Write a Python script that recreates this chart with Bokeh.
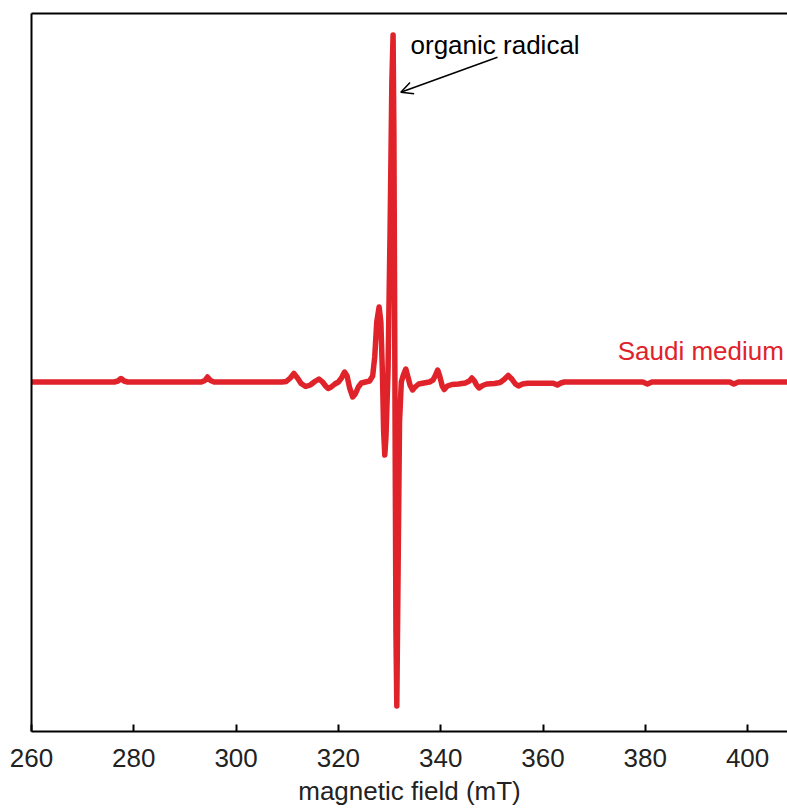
from bokeh.plotting import figure
from bokeh.models import Range1d, LinearAxis, FixedTicker, Label, Arrow, OpenHead
from bokeh.embed import file_html
from bokeh.resources import INLINE

# EPR spectrum: field (mT) and derivative intensity (a.u.)
field = [260.0, 276.2, 276.9, 277.5, 278.1, 278.8, 293.2, 293.9, 294.4, 295.0, 295.7,
         309.0, 309.8, 310.6, 311.3, 312.0, 312.7, 313.6, 314.5, 315.4, 316.2, 316.9,
         317.5, 318.0, 318.6, 319.3, 320.0, 320.6, 321.2, 321.7, 322.2, 322.8, 323.3,
         323.9, 324.5, 325.3, 326.1, 326.7, 327.1, 327.5, 327.96, 328.3, 328.6, 328.85,
         329.07, 329.3, 329.7, 330.1, 330.45, 330.69, 330.85, 331.05, 331.25, 331.42,
         331.65, 331.95, 332.3, 332.7, 333.18, 333.6, 334.0, 334.5, 335.0, 335.7, 336.7,
         337.8, 338.5, 339.0, 339.4, 339.8, 340.3, 340.7, 341.3, 342.2, 343.5, 344.8,
         345.6, 346.1, 346.6, 347.0, 347.5, 348.2, 349.0, 350.5, 351.6, 352.4, 353.2,
         353.9, 354.6, 355.2, 356.0, 357.0, 362.0, 362.8, 363.5, 364.2, 379.5, 380.4,
         381.3, 396.5, 397.3, 398.2, 410.0]
intensity = [0, 0, 1, 3.5, 1, 0, 0, 1.5, 5, 1.5, 0,
             0, 0.5, 4, 8.5, 4, -1.5, -4.5, -3, 0.5, 3, 0,
             -4, -6.5, -5, -2, 0, 4, 10, 6, -6, -15, -12,
             -5, -1, 0, 1, 6, 25, 60, 75, 60, 10, -50,
             -73, -55, 10, 150, 300, 347, 250, 0, -250, -324,
             -200, -40, 0, 7, 13, 5, -3, -8, -5, -2, -1,
             0, 2, 7, 12, 6, -4, -7.5, -4, -2.5, -2, -1,
             1, 4, 1, -3, -6, -3.5, -2, -1.5, -0.5, 2.5, 6.5,
             3, -2, -4, -2, -1.2, -1.2, -3, -1, 0, 0, -2,
             0, 0, -2, 0, 0]

x_ticks = [260, 280, 300, 320, 340, 360, 380, 400]
x_title = "magnetic field (mT)"
series_name = "Saudi medium"
annotation = "organic radical"

RED = "#E0232A"
FONT = "Liberation Sans"

p = figure(width=787, height=808, output_backend="svg", toolbar_location=None,
           x_range=Range1d(260, 407.8), y_range=Range1d(-349.5, 368.5),
           min_border_left=31, min_border_top=13, min_border_right=0, min_border_bottom=77,
           background_fill_color="white", border_fill_color="white")
p.outline_line_color = None
p.grid.visible = False

p.line(field, intensity, line_color=RED, line_width=5.5, line_join="round", line_cap="round")

# bottom axis
xa = p.xaxis[0]
xa.ticker = FixedTicker(ticks=x_ticks)
xa.minor_tick_line_color = None
xa.major_tick_in = 7
xa.major_tick_out = 0
xa.major_tick_line_width = 2
xa.axis_line_width = 2
xa.axis_line_color = "black"
xa.major_label_text_font = FONT
xa.major_label_text_font_size = "26px"
xa.major_label_text_color = "#222222"
xa.major_label_standoff = 17
xa.axis_label = x_title
xa.axis_label_text_font = FONT
xa.axis_label_text_font_size = "26px"
xa.axis_label_text_font_style = "normal"
xa.axis_label_text_color = "#222222"
xa.axis_label_standoff = 6

# left axis: plain line
ya = p.yaxis[0]
ya.ticker = FixedTicker(ticks=[])
ya.minor_tick_line_color = None
ya.major_tick_line_color = None
ya.major_label_text_font_size = "0px"
ya.axis_line_width = 2
ya.axis_line_color = "black"

# top border line
top = LinearAxis(ticker=FixedTicker(ticks=[]), major_label_text_font_size="0px",
                 major_tick_line_color=None, minor_tick_line_color=None,
                 axis_line_width=2, axis_line_color="black")
p.add_layout(top, "above")

p.add_layout(Label(x=334.1, y=337, text=annotation, text_font=FONT, text_font_size="26px",
                   text_color="black", text_baseline="alphabetic", text_align="left"))
p.add_layout(Arrow(end=OpenHead(size=12, line_width=1.5, line_color="black"),
                   x_start=351.1, y_start=324.8, x_end=332.2, y_end=289.8,
                   line_width=1.5, line_color="black"))
p.add_layout(Label(x=374.6, y=31, text=series_name, text_font=FONT, text_font_size="26px",
                   text_color=RED, text_baseline="alphabetic", text_align="left"))

open("out.html", "w").write(file_html(p, INLINE))
